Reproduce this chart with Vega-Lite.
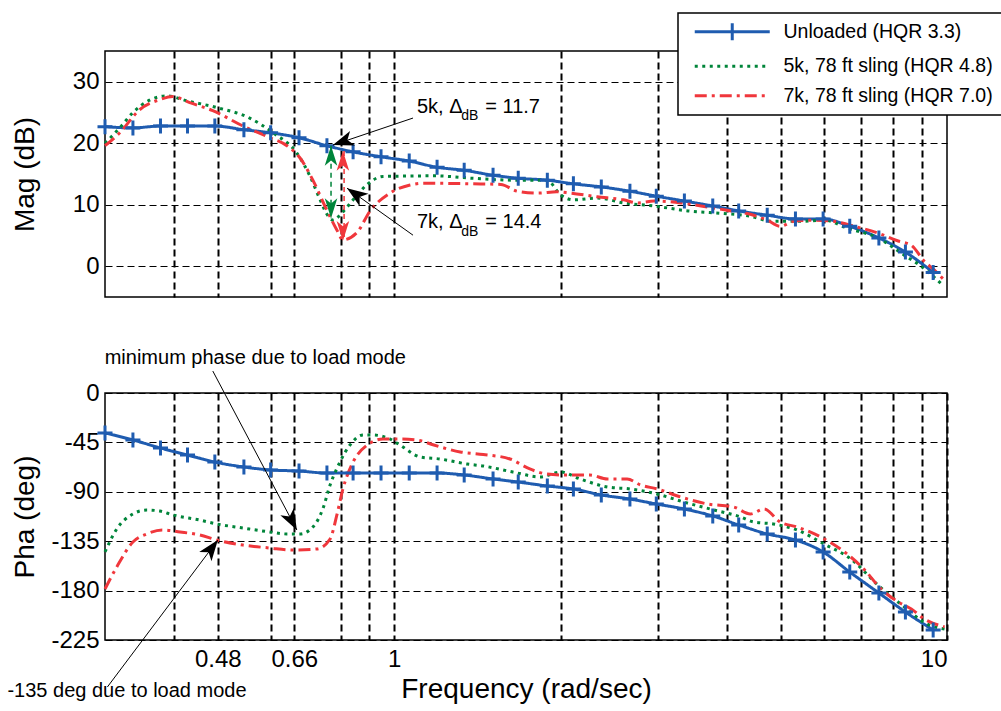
{
  "$schema": "https://vega.github.io/schema/vega-lite/v6.json",
  "background": "white",
  "padding": {"left": 6, "top": 11, "right": 0, "bottom": 4},
  "autosize": {"type": "pad"},
  "bounds": "flush",
  "spacing": 96,
  "config": {
    "font": "Liberation Sans",
    "view": {"stroke": "black", "strokeWidth": 1.5},
    "axis": {
      "domain": false, "ticks": false, "grid": true, "gridColor": "black", "gridOpacity": 1,
      "gridDash": [7, 4], "labelFont": "Liberation Sans", "labelFontSize": 24, "labelColor": "black",
      "titleFont": "Liberation Sans", "titleFontSize": 28, "titleFontWeight": "normal", "titleColor": "black",
      "labelPadding": 6
    },
    "axisX": {"gridWidth": 2},
    "axisY": {"gridWidth": 1.2}
  },
  "resolve": {
    "scale": {"color": "independent", "strokeDash": "independent"},
    "legend": {"color": "independent", "strokeDash": "independent"}
  },
  "datasets": {
    "mag": [
      {"s": "Unloaded (HQR 3.3)", "f": 0.3, "v": 22.7},
      {"s": "Unloaded (HQR 3.3)", "f": 0.337, "v": 22.5},
      {"s": "Unloaded (HQR 3.3)", "f": 0.378, "v": 22.8},
      {"s": "Unloaded (HQR 3.3)", "f": 0.423, "v": 22.8},
      {"s": "Unloaded (HQR 3.3)", "f": 0.474, "v": 22.8},
      {"s": "Unloaded (HQR 3.3)", "f": 0.535, "v": 22.2},
      {"s": "Unloaded (HQR 3.3)", "f": 0.598, "v": 21.7},
      {"s": "Unloaded (HQR 3.3)", "f": 0.673, "v": 20.9},
      {"s": "Unloaded (HQR 3.3)", "f": 0.756, "v": 19.6},
      {"s": "Unloaded (HQR 3.3)", "f": 0.843, "v": 18.6},
      {"s": "Unloaded (HQR 3.3)", "f": 0.947, "v": 17.8},
      {"s": "Unloaded (HQR 3.3)", "f": 1.065, "v": 17.1},
      {"s": "Unloaded (HQR 3.3)", "f": 1.196, "v": 16.1},
      {"s": "Unloaded (HQR 3.3)", "f": 1.339, "v": 15.6},
      {"s": "Unloaded (HQR 3.3)", "f": 1.51, "v": 14.8},
      {"s": "Unloaded (HQR 3.3)", "f": 1.677, "v": 14.3},
      {"s": "Unloaded (HQR 3.3)", "f": 1.893, "v": 14.0},
      {"s": "Unloaded (HQR 3.3)", "f": 2.11, "v": 13.4},
      {"s": "Unloaded (HQR 3.3)", "f": 2.37, "v": 12.9},
      {"s": "Unloaded (HQR 3.3)", "f": 2.67, "v": 12.2},
      {"s": "Unloaded (HQR 3.3)", "f": 2.98, "v": 11.4},
      {"s": "Unloaded (HQR 3.3)", "f": 3.35, "v": 10.6},
      {"s": "Unloaded (HQR 3.3)", "f": 3.77, "v": 9.8},
      {"s": "Unloaded (HQR 3.3)", "f": 4.2, "v": 9.0},
      {"s": "Unloaded (HQR 3.3)", "f": 4.73, "v": 8.3},
      {"s": "Unloaded (HQR 3.3)", "f": 5.32, "v": 7.7},
      {"s": "Unloaded (HQR 3.3)", "f": 5.97, "v": 7.7},
      {"s": "Unloaded (HQR 3.3)", "f": 6.67, "v": 6.5},
      {"s": "Unloaded (HQR 3.3)", "f": 7.53, "v": 4.6},
      {"s": "Unloaded (HQR 3.3)", "f": 8.41, "v": 2.3},
      {"s": "Unloaded (HQR 3.3)", "f": 9.44, "v": -1.0},
      {"s": "5k, 78 ft sling (HQR 4.8)", "f": 0.3, "v": 20.0},
      {"s": "5k, 78 ft sling (HQR 4.8)", "f": 0.319, "v": 22.5},
      {"s": "5k, 78 ft sling (HQR 4.8)", "f": 0.337, "v": 25.0},
      {"s": "5k, 78 ft sling (HQR 4.8)", "f": 0.361, "v": 27.0},
      {"s": "5k, 78 ft sling (HQR 4.8)", "f": 0.388, "v": 27.7},
      {"s": "5k, 78 ft sling (HQR 4.8)", "f": 0.422, "v": 26.9},
      {"s": "5k, 78 ft sling (HQR 4.8)", "f": 0.478, "v": 25.8},
      {"s": "5k, 78 ft sling (HQR 4.8)", "f": 0.548, "v": 24.1},
      {"s": "5k, 78 ft sling (HQR 4.8)", "f": 0.604, "v": 21.7},
      {"s": "5k, 78 ft sling (HQR 4.8)", "f": 0.667, "v": 18.4},
      {"s": "5k, 78 ft sling (HQR 4.8)", "f": 0.704, "v": 14.7},
      {"s": "5k, 78 ft sling (HQR 4.8)", "f": 0.735, "v": 10.8},
      {"s": "5k, 78 ft sling (HQR 4.8)", "f": 0.758, "v": 8.3},
      {"s": "5k, 78 ft sling (HQR 4.8)", "f": 0.776, "v": 7.5},
      {"s": "5k, 78 ft sling (HQR 4.8)", "f": 0.805, "v": 8.7},
      {"s": "5k, 78 ft sling (HQR 4.8)", "f": 0.843, "v": 10.8},
      {"s": "5k, 78 ft sling (HQR 4.8)", "f": 0.894, "v": 13.3},
      {"s": "5k, 78 ft sling (HQR 4.8)", "f": 0.955, "v": 14.6},
      {"s": "5k, 78 ft sling (HQR 4.8)", "f": 1.18, "v": 14.7},
      {"s": "5k, 78 ft sling (HQR 4.8)", "f": 1.39, "v": 14.3},
      {"s": "5k, 78 ft sling (HQR 4.8)", "f": 1.64, "v": 14.0},
      {"s": "5k, 78 ft sling (HQR 4.8)", "f": 1.89, "v": 14.0},
      {"s": "5k, 78 ft sling (HQR 4.8)", "f": 2.0, "v": 11.6},
      {"s": "5k, 78 ft sling (HQR 4.8)", "f": 2.11, "v": 10.8},
      {"s": "5k, 78 ft sling (HQR 4.8)", "f": 2.33, "v": 11.1},
      {"s": "5k, 78 ft sling (HQR 4.8)", "f": 2.6, "v": 10.3},
      {"s": "5k, 78 ft sling (HQR 4.8)", "f": 2.95, "v": 9.8},
      {"s": "5k, 78 ft sling (HQR 4.8)", "f": 3.4, "v": 9.0},
      {"s": "5k, 78 ft sling (HQR 4.8)", "f": 3.9, "v": 8.6},
      {"s": "5k, 78 ft sling (HQR 4.8)", "f": 4.36, "v": 8.2},
      {"s": "5k, 78 ft sling (HQR 4.8)", "f": 4.85, "v": 7.3},
      {"s": "5k, 78 ft sling (HQR 4.8)", "f": 5.43, "v": 7.3},
      {"s": "5k, 78 ft sling (HQR 4.8)", "f": 5.99, "v": 7.5},
      {"s": "5k, 78 ft sling (HQR 4.8)", "f": 6.6, "v": 6.2},
      {"s": "5k, 78 ft sling (HQR 4.8)", "f": 7.5, "v": 4.6},
      {"s": "5k, 78 ft sling (HQR 4.8)", "f": 8.37, "v": 1.8},
      {"s": "5k, 78 ft sling (HQR 4.8)", "f": 8.98, "v": 0.0},
      {"s": "5k, 78 ft sling (HQR 4.8)", "f": 9.83, "v": -3.1},
      {"s": "7k, 78 ft sling (HQR 7.0)", "f": 0.3, "v": 19.6},
      {"s": "7k, 78 ft sling (HQR 7.0)", "f": 0.319, "v": 21.7},
      {"s": "7k, 78 ft sling (HQR 7.0)", "f": 0.346, "v": 25.4},
      {"s": "7k, 78 ft sling (HQR 7.0)", "f": 0.377, "v": 27.1},
      {"s": "7k, 78 ft sling (HQR 7.0)", "f": 0.398, "v": 27.6},
      {"s": "7k, 78 ft sling (HQR 7.0)", "f": 0.427, "v": 26.6},
      {"s": "7k, 78 ft sling (HQR 7.0)", "f": 0.47, "v": 25.3},
      {"s": "7k, 78 ft sling (HQR 7.0)", "f": 0.533, "v": 22.8},
      {"s": "7k, 78 ft sling (HQR 7.0)", "f": 0.596, "v": 20.9},
      {"s": "7k, 78 ft sling (HQR 7.0)", "f": 0.64, "v": 19.6},
      {"s": "7k, 78 ft sling (HQR 7.0)", "f": 0.676, "v": 17.6},
      {"s": "7k, 78 ft sling (HQR 7.0)", "f": 0.713, "v": 14.0},
      {"s": "7k, 78 ft sling (HQR 7.0)", "f": 0.756, "v": 9.1},
      {"s": "7k, 78 ft sling (HQR 7.0)", "f": 0.788, "v": 5.9},
      {"s": "7k, 78 ft sling (HQR 7.0)", "f": 0.808, "v": 4.3},
      {"s": "7k, 78 ft sling (HQR 7.0)", "f": 0.857, "v": 5.5},
      {"s": "7k, 78 ft sling (HQR 7.0)", "f": 0.905, "v": 9.0},
      {"s": "7k, 78 ft sling (HQR 7.0)", "f": 0.983, "v": 11.9},
      {"s": "7k, 78 ft sling (HQR 7.0)", "f": 1.069, "v": 13.2},
      {"s": "7k, 78 ft sling (HQR 7.0)", "f": 1.13, "v": 13.5},
      {"s": "7k, 78 ft sling (HQR 7.0)", "f": 1.39, "v": 13.4},
      {"s": "7k, 78 ft sling (HQR 7.0)", "f": 1.56, "v": 13.3},
      {"s": "7k, 78 ft sling (HQR 7.0)", "f": 1.67, "v": 12.2},
      {"s": "7k, 78 ft sling (HQR 7.0)", "f": 1.82, "v": 11.9},
      {"s": "7k, 78 ft sling (HQR 7.0)", "f": 1.97, "v": 12.1},
      {"s": "7k, 78 ft sling (HQR 7.0)", "f": 2.08, "v": 11.9},
      {"s": "7k, 78 ft sling (HQR 7.0)", "f": 2.33, "v": 11.3},
      {"s": "7k, 78 ft sling (HQR 7.0)", "f": 2.6, "v": 10.8},
      {"s": "7k, 78 ft sling (HQR 7.0)", "f": 2.76, "v": 10.3},
      {"s": "7k, 78 ft sling (HQR 7.0)", "f": 2.95, "v": 10.6},
      {"s": "7k, 78 ft sling (HQR 7.0)", "f": 3.3, "v": 10.3},
      {"s": "7k, 78 ft sling (HQR 7.0)", "f": 3.59, "v": 9.8},
      {"s": "7k, 78 ft sling (HQR 7.0)", "f": 4.0, "v": 9.1},
      {"s": "7k, 78 ft sling (HQR 7.0)", "f": 4.47, "v": 8.3},
      {"s": "7k, 78 ft sling (HQR 7.0)", "f": 4.73, "v": 7.5},
      {"s": "7k, 78 ft sling (HQR 7.0)", "f": 4.99, "v": 6.5},
      {"s": "7k, 78 ft sling (HQR 7.0)", "f": 5.28, "v": 7.3},
      {"s": "7k, 78 ft sling (HQR 7.0)", "f": 5.75, "v": 7.5},
      {"s": "7k, 78 ft sling (HQR 7.0)", "f": 6.24, "v": 7.3},
      {"s": "7k, 78 ft sling (HQR 7.0)", "f": 6.8, "v": 6.5},
      {"s": "7k, 78 ft sling (HQR 7.0)", "f": 7.5, "v": 5.4},
      {"s": "7k, 78 ft sling (HQR 7.0)", "f": 8.16, "v": 4.1},
      {"s": "7k, 78 ft sling (HQR 7.0)", "f": 8.62, "v": 3.4},
      {"s": "7k, 78 ft sling (HQR 7.0)", "f": 9.1, "v": 0.8},
      {"s": "7k, 78 ft sling (HQR 7.0)", "f": 9.48, "v": -0.6},
      {"s": "7k, 78 ft sling (HQR 7.0)", "f": 9.9, "v": -2.3}
    ],
    "pha": [
      {"s": "Unloaded (HQR 3.3)", "f": 0.3, "v": -36.4},
      {"s": "Unloaded (HQR 3.3)", "f": 0.337, "v": -42.8},
      {"s": "Unloaded (HQR 3.3)", "f": 0.378, "v": -50.1},
      {"s": "Unloaded (HQR 3.3)", "f": 0.423, "v": -56.5},
      {"s": "Unloaded (HQR 3.3)", "f": 0.474, "v": -62.9},
      {"s": "Unloaded (HQR 3.3)", "f": 0.535, "v": -67.4},
      {"s": "Unloaded (HQR 3.3)", "f": 0.598, "v": -70.1},
      {"s": "Unloaded (HQR 3.3)", "f": 0.673, "v": -71.1},
      {"s": "Unloaded (HQR 3.3)", "f": 0.756, "v": -72.9},
      {"s": "Unloaded (HQR 3.3)", "f": 0.843, "v": -72.9},
      {"s": "Unloaded (HQR 3.3)", "f": 0.947, "v": -72.9},
      {"s": "Unloaded (HQR 3.3)", "f": 1.065, "v": -72.9},
      {"s": "Unloaded (HQR 3.3)", "f": 1.196, "v": -72.9},
      {"s": "Unloaded (HQR 3.3)", "f": 1.339, "v": -74.7},
      {"s": "Unloaded (HQR 3.3)", "f": 1.51, "v": -78.3},
      {"s": "Unloaded (HQR 3.3)", "f": 1.677, "v": -81.1},
      {"s": "Unloaded (HQR 3.3)", "f": 1.893, "v": -84.7},
      {"s": "Unloaded (HQR 3.3)", "f": 2.11, "v": -87.4},
      {"s": "Unloaded (HQR 3.3)", "f": 2.37, "v": -92.9},
      {"s": "Unloaded (HQR 3.3)", "f": 2.67, "v": -96.6},
      {"s": "Unloaded (HQR 3.3)", "f": 2.98, "v": -101.1},
      {"s": "Unloaded (HQR 3.3)", "f": 3.35, "v": -105.7},
      {"s": "Unloaded (HQR 3.3)", "f": 3.77, "v": -112.0},
      {"s": "Unloaded (HQR 3.3)", "f": 4.2, "v": -120.2},
      {"s": "Unloaded (HQR 3.3)", "f": 4.73, "v": -128.4},
      {"s": "Unloaded (HQR 3.3)", "f": 5.32, "v": -133.9},
      {"s": "Unloaded (HQR 3.3)", "f": 5.97, "v": -144.8},
      {"s": "Unloaded (HQR 3.3)", "f": 6.67, "v": -163.1},
      {"s": "Unloaded (HQR 3.3)", "f": 7.53, "v": -182.2},
      {"s": "Unloaded (HQR 3.3)", "f": 8.41, "v": -199.5},
      {"s": "Unloaded (HQR 3.3)", "f": 9.44, "v": -215.9},
      {"s": "5k, 78 ft sling (HQR 4.8)", "f": 0.3, "v": -144.8},
      {"s": "5k, 78 ft sling (HQR 4.8)", "f": 0.315, "v": -123.9},
      {"s": "5k, 78 ft sling (HQR 4.8)", "f": 0.337, "v": -110.2},
      {"s": "5k, 78 ft sling (HQR 4.8)", "f": 0.357, "v": -106.6},
      {"s": "5k, 78 ft sling (HQR 4.8)", "f": 0.377, "v": -107.5},
      {"s": "5k, 78 ft sling (HQR 4.8)", "f": 0.398, "v": -111.1},
      {"s": "5k, 78 ft sling (HQR 4.8)", "f": 0.445, "v": -115.7},
      {"s": "5k, 78 ft sling (HQR 4.8)", "f": 0.478, "v": -119.3},
      {"s": "5k, 78 ft sling (HQR 4.8)", "f": 0.533, "v": -123.0},
      {"s": "5k, 78 ft sling (HQR 4.8)", "f": 0.596, "v": -126.6},
      {"s": "5k, 78 ft sling (HQR 4.8)", "f": 0.64, "v": -128.4},
      {"s": "5k, 78 ft sling (HQR 4.8)", "f": 0.676, "v": -128.4},
      {"s": "5k, 78 ft sling (HQR 4.8)", "f": 0.713, "v": -122.1},
      {"s": "5k, 78 ft sling (HQR 4.8)", "f": 0.743, "v": -105.7},
      {"s": "5k, 78 ft sling (HQR 4.8)", "f": 0.766, "v": -83.8},
      {"s": "5k, 78 ft sling (HQR 4.8)", "f": 0.798, "v": -62.9},
      {"s": "5k, 78 ft sling (HQR 4.8)", "f": 0.832, "v": -47.4},
      {"s": "5k, 78 ft sling (HQR 4.8)", "f": 0.879, "v": -38.3},
      {"s": "5k, 78 ft sling (HQR 4.8)", "f": 0.916, "v": -38.3},
      {"s": "5k, 78 ft sling (HQR 4.8)", "f": 0.983, "v": -41.9},
      {"s": "5k, 78 ft sling (HQR 4.8)", "f": 1.025, "v": -47.4},
      {"s": "5k, 78 ft sling (HQR 4.8)", "f": 1.115, "v": -58.3},
      {"s": "5k, 78 ft sling (HQR 4.8)", "f": 1.21, "v": -60.1},
      {"s": "5k, 78 ft sling (HQR 4.8)", "f": 1.355, "v": -64.7},
      {"s": "5k, 78 ft sling (HQR 4.8)", "f": 1.45, "v": -66.5},
      {"s": "5k, 78 ft sling (HQR 4.8)", "f": 1.64, "v": -72.0},
      {"s": "5k, 78 ft sling (HQR 4.8)", "f": 1.84, "v": -76.5},
      {"s": "5k, 78 ft sling (HQR 4.8)", "f": 2.0, "v": -72.0},
      {"s": "5k, 78 ft sling (HQR 4.8)", "f": 2.17, "v": -78.3},
      {"s": "5k, 78 ft sling (HQR 4.8)", "f": 2.43, "v": -85.6},
      {"s": "5k, 78 ft sling (HQR 4.8)", "f": 2.67, "v": -87.4},
      {"s": "5k, 78 ft sling (HQR 4.8)", "f": 2.99, "v": -92.0},
      {"s": "5k, 78 ft sling (HQR 4.8)", "f": 3.34, "v": -99.3},
      {"s": "5k, 78 ft sling (HQR 4.8)", "f": 3.79, "v": -106.6},
      {"s": "5k, 78 ft sling (HQR 4.8)", "f": 4.24, "v": -113.0},
      {"s": "5k, 78 ft sling (HQR 4.8)", "f": 4.47, "v": -117.5},
      {"s": "5k, 78 ft sling (HQR 4.8)", "f": 4.85, "v": -119.3},
      {"s": "5k, 78 ft sling (HQR 4.8)", "f": 5.36, "v": -124.8},
      {"s": "5k, 78 ft sling (HQR 4.8)", "f": 5.99, "v": -137.5},
      {"s": "5k, 78 ft sling (HQR 4.8)", "f": 6.7, "v": -151.2},
      {"s": "5k, 78 ft sling (HQR 4.8)", "f": 7.5, "v": -174.9},
      {"s": "5k, 78 ft sling (HQR 4.8)", "f": 8.37, "v": -194.9},
      {"s": "5k, 78 ft sling (HQR 4.8)", "f": 9.2, "v": -210.4},
      {"s": "5k, 78 ft sling (HQR 4.8)", "f": 9.9, "v": -215.0},
      {"s": "7k, 78 ft sling (HQR 7.0)", "f": 0.3, "v": -178.5},
      {"s": "7k, 78 ft sling (HQR 7.0)", "f": 0.315, "v": -158.5},
      {"s": "7k, 78 ft sling (HQR 7.0)", "f": 0.337, "v": -135.7},
      {"s": "7k, 78 ft sling (HQR 7.0)", "f": 0.357, "v": -128.4},
      {"s": "7k, 78 ft sling (HQR 7.0)", "f": 0.381, "v": -124.8},
      {"s": "7k, 78 ft sling (HQR 7.0)", "f": 0.41, "v": -126.6},
      {"s": "7k, 78 ft sling (HQR 7.0)", "f": 0.445, "v": -129.3},
      {"s": "7k, 78 ft sling (HQR 7.0)", "f": 0.478, "v": -133.9},
      {"s": "7k, 78 ft sling (HQR 7.0)", "f": 0.533, "v": -138.5},
      {"s": "7k, 78 ft sling (HQR 7.0)", "f": 0.596, "v": -141.2},
      {"s": "7k, 78 ft sling (HQR 7.0)", "f": 0.656, "v": -143.0},
      {"s": "7k, 78 ft sling (HQR 7.0)", "f": 0.725, "v": -142.1},
      {"s": "7k, 78 ft sling (HQR 7.0)", "f": 0.766, "v": -133.0},
      {"s": "7k, 78 ft sling (HQR 7.0)", "f": 0.788, "v": -111.1},
      {"s": "7k, 78 ft sling (HQR 7.0)", "f": 0.808, "v": -87.4},
      {"s": "7k, 78 ft sling (HQR 7.0)", "f": 0.843, "v": -62.9},
      {"s": "7k, 78 ft sling (HQR 7.0)", "f": 0.894, "v": -47.4},
      {"s": "7k, 78 ft sling (HQR 7.0)", "f": 0.955, "v": -41.9},
      {"s": "7k, 78 ft sling (HQR 7.0)", "f": 1.025, "v": -41.9},
      {"s": "7k, 78 ft sling (HQR 7.0)", "f": 1.1, "v": -42.8},
      {"s": "7k, 78 ft sling (HQR 7.0)", "f": 1.18, "v": -47.4},
      {"s": "7k, 78 ft sling (HQR 7.0)", "f": 1.317, "v": -53.7},
      {"s": "7k, 78 ft sling (HQR 7.0)", "f": 1.45, "v": -56.0},
      {"s": "7k, 78 ft sling (HQR 7.0)", "f": 1.62, "v": -60.1},
      {"s": "7k, 78 ft sling (HQR 7.0)", "f": 1.76, "v": -69.2},
      {"s": "7k, 78 ft sling (HQR 7.0)", "f": 1.89, "v": -73.8},
      {"s": "7k, 78 ft sling (HQR 7.0)", "f": 2.03, "v": -74.7},
      {"s": "7k, 78 ft sling (HQR 7.0)", "f": 2.26, "v": -74.7},
      {"s": "7k, 78 ft sling (HQR 7.0)", "f": 2.43, "v": -78.3},
      {"s": "7k, 78 ft sling (HQR 7.0)", "f": 2.64, "v": -78.3},
      {"s": "7k, 78 ft sling (HQR 7.0)", "f": 2.79, "v": -83.8},
      {"s": "7k, 78 ft sling (HQR 7.0)", "f": 2.99, "v": -87.4},
      {"s": "7k, 78 ft sling (HQR 7.0)", "f": 3.3, "v": -94.7},
      {"s": "7k, 78 ft sling (HQR 7.0)", "f": 3.69, "v": -101.1},
      {"s": "7k, 78 ft sling (HQR 7.0)", "f": 4.11, "v": -103.8},
      {"s": "7k, 78 ft sling (HQR 7.0)", "f": 4.41, "v": -110.2},
      {"s": "7k, 78 ft sling (HQR 7.0)", "f": 4.67, "v": -105.7},
      {"s": "7k, 78 ft sling (HQR 7.0)", "f": 4.99, "v": -117.5},
      {"s": "7k, 78 ft sling (HQR 7.0)", "f": 5.36, "v": -122.1},
      {"s": "7k, 78 ft sling (HQR 7.0)", "f": 5.91, "v": -131.2},
      {"s": "7k, 78 ft sling (HQR 7.0)", "f": 6.6, "v": -146.7},
      {"s": "7k, 78 ft sling (HQR 7.0)", "f": 7.07, "v": -160.3},
      {"s": "7k, 78 ft sling (HQR 7.0)", "f": 7.6, "v": -178.5},
      {"s": "7k, 78 ft sling (HQR 7.0)", "f": 8.16, "v": -190.4},
      {"s": "7k, 78 ft sling (HQR 7.0)", "f": 8.62, "v": -196.8},
      {"s": "7k, 78 ft sling (HQR 7.0)", "f": 9.1, "v": -205.9},
      {"s": "7k, 78 ft sling (HQR 7.0)", "f": 9.9, "v": -213.0}
    ]
  },
  "vconcat": [
    {
      "width": 842,
      "height": 246,
      "layer": [
        {
          "data": {"name": "mag"},
          "mark": {"type": "line", "strokeWidth": 3, "interpolate": "monotone"},
          "encoding": {
            "x": {"field": "f", "type": "quantitative", "scale": {"type": "log", "domain": [0.3, 10], "nice": false},
                  "axis": {"values": [0.4, 0.48, 0.6, 0.66, 0.8, 0.9, 1, 2, 3, 4, 5, 6, 7, 8, 9], "labels": false, "title": null}},
            "y": {"field": "v", "type": "quantitative", "scale": {"domain": [-5, 35], "nice": false, "zero": false},
                  "axis": {"values": [0, 10, 20, 30], "title": "Mag (dB)", "titleX": -66, "titleY": 123, "labelExpr": "toString(datum.value)"}},
            "color": {"field": "s", "type": "nominal",
                      "scale": {"domain": ["Unloaded (HQR 3.3)", "5k, 78 ft sling (HQR 4.8)", "7k, 78 ft sling (HQR 7.0)"], "range": ["#1f5cb0", "#00853a", "#f0373c"]},
                      "legend": {"orient": "none", "legendX": 573, "legendY": -38, "title": null, "padding": 9, "strokeColor": "black", "fillColor": "white",
                                 "labelFont": "Liberation Sans", "labelFontSize": 19.5, "labelColor": "black", "labelLimit": 400, "symbolSize": 100, "symbolStrokeWidth": 3,
                                 "symbolType": "M-0.4,0H14.6", "labelOffset": 77, "rowPadding": 8.5,
                                 "encode": {"legend": {"update": {"strokeWidth": {"value": 1.5}}},
                                            "symbols": {"update": {"shape": {"signal": "datum.value === 'Unloaded (HQR 3.3)' ? 'M-0.4,0H14.6M7.1,-1.7V1.7' : 'M-0.4,0H14.6'"}}}}}},
            "strokeDash": {"field": "s", "type": "nominal",
                      "scale": {"domain": ["Unloaded (HQR 3.3)", "5k, 78 ft sling (HQR 4.8)", "7k, 78 ft sling (HQR 7.0)"], "range": [[1, 0], [3, 4.5], [12, 5, 3, 5]]},
                      "legend": {"orient": "none", "legendX": 573, "legendY": -38, "title": null, "padding": 9, "strokeColor": "black", "fillColor": "white",
                                 "labelFont": "Liberation Sans", "labelFontSize": 19.5, "labelColor": "black", "labelLimit": 400, "symbolSize": 100, "symbolStrokeWidth": 3,
                                 "symbolType": "M-0.4,0H14.6", "labelOffset": 77, "rowPadding": 8.5,
                                 "encode": {"legend": {"update": {"strokeWidth": {"value": 1.5}}},
                                            "symbols": {"update": {"shape": {"signal": "datum.value === 'Unloaded (HQR 3.3)' ? 'M-0.4,0H14.6M7.1,-1.7V1.7' : 'M-0.4,0H14.6'"}}}}}}
          }
        },
        {
          "data": {"name": "mag"},
          "transform": [{"filter": "datum.s === 'Unloaded (HQR 3.3)'"}],
          "mark": {"type": "point", "shape": "M-1,0H1M0,-1V1", "filled": false, "size": 225, "strokeWidth": 3, "color": "#1f5cb0", "opacity": 1},
          "encoding": {"x": {"field": "f", "type": "quantitative"}, "y": {"field": "v", "type": "quantitative"}}
        },
        {
          "data": {"values": [{"f": 0.769, "v": 19.6, "v2": 7.8}]},
          "mark": {"type": "rule", "color": "#00853a", "strokeWidth": 1.5, "strokeDash": [5, 4]},
          "encoding": {"x": {"field": "f", "type": "quantitative"}, "y": {"field": "v", "type": "quantitative"}, "y2": {"field": "v2"}}
        },
        {
          "data": {"values": [{"f": 0.812, "v": 18.75, "v2": 4.1}]},
          "mark": {"type": "rule", "color": "#f0373c", "strokeWidth": 1.5, "strokeDash": [5, 4]},
          "encoding": {"x": {"field": "f", "type": "quantitative"}, "y": {"field": "v", "type": "quantitative"}, "y2": {"field": "v2"}}
        },
        {
          "data": {"values": [{"f": 1.082, "v": 24.1, "f2": 0.775, "v2": 19.7}, {"f": 1.082, "v": 5.05, "f2": 0.822, "v2": 12.7}]},
          "mark": {"type": "rule", "color": "black", "strokeWidth": 1},
          "encoding": {"x": {"field": "f", "type": "quantitative"}, "y": {"field": "v", "type": "quantitative"}, "x2": {"field": "f2"}, "y2": {"field": "v2"}}
        },
        {
          "data": {"values": [{"f": 0.769, "v": 19.6}]},
          "mark": {"type": "point", "shape": "M0,0L0.6,1.9L0,1.4L-0.6,1.9Z", "size": 440, "filled": true, "color": "#00853a", "opacity": 1, "angle": 0, "strokeWidth": 0},
          "encoding": {"x": {"field": "f", "type": "quantitative"}, "y": {"field": "v", "type": "quantitative"}}
        },
        {
          "data": {"values": [{"f": 0.769, "v": 7.8}]},
          "mark": {"type": "point", "shape": "M0,0L0.6,1.9L0,1.4L-0.6,1.9Z", "size": 440, "filled": true, "color": "#00853a", "opacity": 1, "angle": 180, "strokeWidth": 0},
          "encoding": {"x": {"field": "f", "type": "quantitative"}, "y": {"field": "v", "type": "quantitative"}}
        },
        {
          "data": {"values": [{"f": 0.808, "v": 18.75}]},
          "mark": {"type": "point", "shape": "M0,0L0.6,1.9L0,1.4L-0.6,1.9Z", "size": 440, "filled": true, "color": "#f0373c", "opacity": 1, "angle": 0, "strokeWidth": 0},
          "encoding": {"x": {"field": "f", "type": "quantitative"}, "y": {"field": "v", "type": "quantitative"}}
        },
        {
          "data": {"values": [{"f": 0.808, "v": 4.1}]},
          "mark": {"type": "point", "shape": "M0,0L0.6,1.9L0,1.4L-0.6,1.9Z", "size": 440, "filled": true, "color": "#f0373c", "opacity": 1, "angle": 180, "strokeWidth": 0},
          "encoding": {"x": {"field": "f", "type": "quantitative"}, "y": {"field": "v", "type": "quantitative"}}
        },
        {
          "data": {"values": [{"f": 0.775, "v": 19.7}]},
          "mark": {"type": "point", "shape": "M0,0L0.7,1.9L0,1.4L-0.7,1.9Z", "size": 480, "filled": true, "color": "black", "opacity": 1, "angle": 251, "strokeWidth": 0},
          "encoding": {"x": {"field": "f", "type": "quantitative"}, "y": {"field": "v", "type": "quantitative"}}
        },
        {
          "data": {"values": [{"f": 0.822, "v": 12.7}]},
          "mark": {"type": "point", "shape": "M0,0L0.7,1.9L0,1.4L-0.7,1.9Z", "size": 480, "filled": true, "color": "black", "opacity": 1, "angle": 305, "strokeWidth": 0},
          "encoding": {"x": {"field": "f", "type": "quantitative"}, "y": {"field": "v", "type": "quantitative"}}
        },
        {
          "data": {"values": [{"f": 1.1, "v": 24.95, "t": "5k, Δ"}, {"f": 1.462, "v": 24.95, "t": "= 11.7"}, {"f": 1.1, "v": 6.2, "t": "7k, Δ"}, {"f": 1.462, "v": 6.2, "t": "= 14.4"}]},
          "mark": {"type": "text", "align": "left", "baseline": "alphabetic", "fontSize": 20, "font": "Liberation Sans", "color": "black"},
          "encoding": {"x": {"field": "f", "type": "quantitative"}, "y": {"field": "v", "type": "quantitative"}, "text": {"field": "t"}}
        },
        {
          "data": {"values": [{"f": 1.322, "v": 23.8, "t": "dB"}, {"f": 1.322, "v": 5.0, "t": "dB"}]},
          "mark": {"type": "text", "align": "left", "baseline": "alphabetic", "fontSize": 14, "font": "Liberation Sans", "color": "black"},
          "encoding": {"x": {"field": "f", "type": "quantitative"}, "y": {"field": "v", "type": "quantitative"}, "text": {"field": "t"}}
        }
      ]
    },
    {
      "width": 842,
      "height": 247,
      "layer": [
        {
          "data": {"name": "pha"},
          "mark": {"type": "line", "strokeWidth": 3, "interpolate": "monotone"},
          "encoding": {
            "x": {"field": "f", "type": "quantitative", "scale": {"type": "log", "domain": [0.3, 10], "nice": false},
                  "axis": {"values": [0.4, 0.48, 0.6, 0.66, 0.8, 0.9, 1, 2, 3, 4, 5, 6, 7, 8, 9, 10], "title": "Frequency (rad/sec)", "titlePadding": 4,
                           "labelExpr": "indexof([0.48, 0.66, 1, 10], datum.value) >= 0 ? toString(datum.value) : ''", "labelPadding": 7}},
            "y": {"field": "v", "type": "quantitative", "scale": {"domain": [-225, 0], "nice": false, "zero": false},
                  "axis": {"values": [-225, -180, -135, -90, -45, 0], "title": "Pha (deg)", "titleX": -66, "titleY": 123.5, "labelExpr": "toString(datum.value)"}},
            "color": {"field": "s", "type": "nominal",
                      "scale": {"domain": ["Unloaded (HQR 3.3)", "5k, 78 ft sling (HQR 4.8)", "7k, 78 ft sling (HQR 7.0)"], "range": ["#1f5cb0", "#00853a", "#f0373c"]},
                      "legend": null},
            "strokeDash": {"field": "s", "type": "nominal",
                      "scale": {"domain": ["Unloaded (HQR 3.3)", "5k, 78 ft sling (HQR 4.8)", "7k, 78 ft sling (HQR 7.0)"], "range": [[1, 0], [3, 4.5], [12, 5, 3, 5]]},
                      "legend": null}
          }
        },
        {
          "data": {"name": "pha"},
          "transform": [{"filter": "datum.s === 'Unloaded (HQR 3.3)'"}],
          "mark": {"type": "point", "shape": "M-1,0H1M0,-1V1", "filled": false, "size": 225, "strokeWidth": 3, "color": "#1f5cb0", "opacity": 1},
          "encoding": {"x": {"field": "f", "type": "quantitative"}, "y": {"field": "v", "type": "quantitative"}}
        },
        {
          "data": {"values": [{"f": 0.47, "v": 20.0, "f2": 0.667, "v2": -124.8}, {"f": 0.303, "v": -267.8, "f2": 0.48, "v2": -133.9}]},
          "mark": {"type": "rule", "color": "black", "strokeWidth": 1},
          "encoding": {"x": {"field": "f", "type": "quantitative"}, "y": {"field": "v", "type": "quantitative"}, "x2": {"field": "f2"}, "y2": {"field": "v2"}}
        },
        {
          "data": {"values": [{"f": 0.667, "v": -124.8}]},
          "mark": {"type": "point", "shape": "M0,0L0.7,1.9L0,1.4L-0.7,1.9Z", "size": 480, "filled": true, "color": "black", "opacity": 1, "angle": 152, "strokeWidth": 0},
          "encoding": {"x": {"field": "f", "type": "quantitative"}, "y": {"field": "v", "type": "quantitative"}}
        },
        {
          "data": {"values": [{"f": 0.48, "v": -133.9}]},
          "mark": {"type": "point", "shape": "M0,0L0.7,1.9L0,1.4L-0.7,1.9Z", "size": 480, "filled": true, "color": "black", "opacity": 1, "angle": 37, "strokeWidth": 0},
          "encoding": {"x": {"field": "f", "type": "quantitative"}, "y": {"field": "v", "type": "quantitative"}}
        },
        {
          "data": {"values": [{"f": 0.2996, "v": 26.4, "t": "minimum phase due to load mode"}, {"f": 0.19985, "v": -276.9, "t": "-135 deg due to load mode"}]},
          "mark": {"type": "text", "align": "left", "baseline": "alphabetic", "fontSize": 20, "font": "Liberation Sans", "color": "black"},
          "encoding": {"x": {"field": "f", "type": "quantitative"}, "y": {"field": "v", "type": "quantitative"}, "text": {"field": "t"}}
        }
      ]
    }
  ]
}
